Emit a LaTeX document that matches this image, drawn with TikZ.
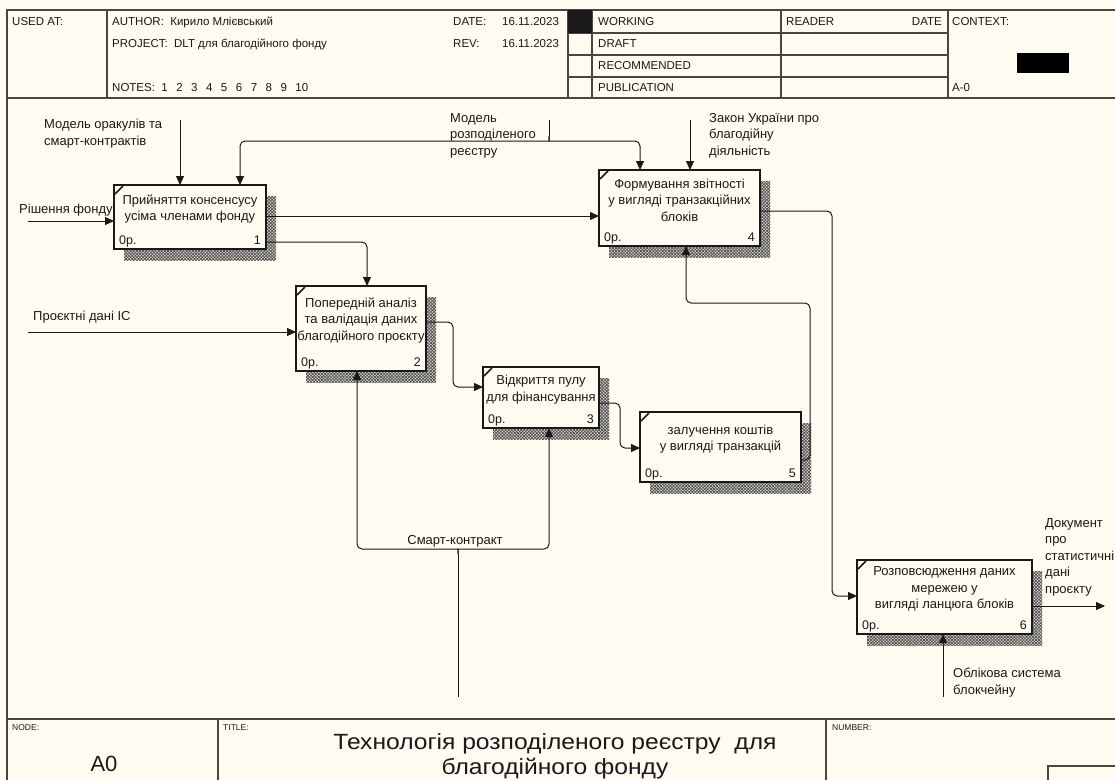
\documentclass[tikz,border=0pt]{standalone}
\usepackage{fontspec}
\setmainfont{Liberation Sans}
\usetikzlibrary{arrows.meta,patterns.meta}

\definecolor{paper}{RGB}{255,251,240}
\definecolor{ink}{RGB}{25,25,25}
\definecolor{rule}{RGB}{70,70,70}

\tikzset{
  frame/.style={draw=rule, line width=1.2pt},
  hdr/.style={anchor=base west, inner sep=0pt, font=\fontsize{11.5}{13}\selectfont, text=ink},
  tiny/.style={anchor=base west, inner sep=0pt, font=\fontsize{8.5}{10}\selectfont, text=ink},
  lbl/.style={anchor=north west, inner sep=0pt, align=left, font=\fontsize{13}{16.5}\selectfont, text=ink},
  boxframe/.style={draw=ink, line width=2pt, fill=paper, inner sep=0pt, outer sep=0pt, anchor=north west},
  boxtext/.style={align=center, inner sep=0pt, font=\fontsize{13}{16.5}\selectfont, text=ink},
  boxtag/.style={inner sep=0pt, font=\fontsize{12.5}{14}\selectfont, text=ink},
  hatchA/.style={pattern={Lines[angle=45,distance=2.2pt,line width=0.7pt]}, pattern color=black!70},
  hatchB/.style={pattern={Lines[angle=-45,distance=2.2pt,line width=0.7pt]}, pattern color=black!70},
  bigtext/.style={anchor=base, inner sep=0pt, font=\fontsize{22}{25}\selectfont, text=ink},
  flow/.style={draw=ink, line width=1pt, rounded corners=5pt, -{Triangle[length=9pt,width=8pt]}},
  wire/.style={draw=ink, line width=1pt},
}

% activity box: name, x1, y1, x2, y2, text, number
\newcommand\idefbox[7]{%
  \fill[black!12!paper] (#2+10,#3+11) rectangle (#4+10,#5+11);
  \fill[hatchA] (#2+10,#3+11) rectangle (#4+10,#5+11);
  \fill[hatchB] (#2+10,#3+11) rectangle (#4+10,#5+11);
  \node[boxframe, minimum width={#4-#2}, minimum height={#5-#3}] (#1) at (#2,#3) {};
  \draw[ink, line width=1.6pt] (#2+1,#3+9) -- (#2+9,#3+1);
  \node[boxtext] (#1-text) at ({(#2+#4)/2},{(#3+#5-16)/2}) {#6};
  \node[boxtag, anchor=base west] (#1-cost) at (#2+5,#5-5) {0р.};
  \node[boxtag, anchor=base east] (#1-num) at (#4-5,#5-5) {#7};
}

\begin{document}
\begin{tikzpicture}[x=1pt, y=-1pt]
  \useasboundingbox (0,0) rectangle (1115,780);
  \fill[paper] (0,0) rectangle (1115,780);

  % ---------- header block ----------
  \draw[frame] (7,10) -- (1115,10);
  \draw[frame] (7,98) -- (1115,98);
  \foreach \xx in {107,568,592,781,948}
    \draw[frame] (\xx,10) -- (\xx,98);
  \foreach \yy in {33,55,77}
    \draw[frame] (568,\yy) -- (948,\yy);
  \fill[ink] (568,10) rectangle (592,33);
  \fill[black] (1017,53) rectangle (1069,73);

  \node[hdr] (usedat) at (12,25) {USED AT:};
  \node[hdr] (author) at (112,25) {AUTHOR:\ \ Кирило Млієвський};
  \node[hdr] (project) at (112,47) {PROJECT:\ \ DLT для благодійного фонду};
  \node[hdr] (notes) at (112,91) {NOTES:\ \ 1\hspace{8.5pt}2\hspace{8.5pt}3\hspace{8.5pt}4\hspace{8.5pt}5\hspace{8.5pt}6\hspace{8.5pt}7\hspace{8.5pt}8\hspace{8.5pt}9\hspace{8.5pt}10};
  \node[hdr] (datek) at (453,25) {DATE:};
  \node[hdr] (datev) at (502,25) {16.11.2023};
  \node[hdr] (revk) at (453,47) {REV:};
  \node[hdr] (revv) at (502,47) {16.11.2023};
  \node[hdr] (working) at (598,25) {WORKING};
  \node[hdr] (draft) at (598,47) {DRAFT};
  \node[hdr] (recommended) at (598,69) {RECOMMENDED};
  \node[hdr] (publication) at (598,91) {PUBLICATION};
  \node[hdr] (reader) at (786,25) {READER};
  \node[hdr, anchor=base east] (rdate) at (942,25) {DATE};
  \node[hdr] (context) at (952,25) {CONTEXT:};
  \node[hdr] (ctxnode) at (952,91) {A-0};

  % ---------- outer border ----------
  \draw[rule, line width=2pt] (7,9) -- (7,780);

  % ---------- footer block ----------
  \draw[frame] (7,719) -- (1115,719);
  \draw[frame] (218,719) -- (218,780);
  \draw[frame] (826,719) -- (826,780);
  \draw[frame] (1048,780) -- (1048,766) -- (1115,766);
  \node[tiny] (nodek) at (12,730) {NODE:};
  \node[tiny] (titlek) at (223,730) {TITLE:};
  \node[tiny] (numberk) at (832,730) {NUMBER:};
  \node[bigtext] (nodev) at (104,771) {A0};
  \node[bigtext] (title1) at (555,749) {\scalebox{1.12}[1]{Технологія розподіленого реєстру\ \ для}};
  \node[bigtext] (title2) at (555,774) {\scalebox{1.12}[1]{благодійного фонду}};

  % ---------- activity boxes ----------
  \idefbox{b1}{114}{185}{266}{249}{Прийняття консенсусу\\усіма членами фонду}{1}
  \idefbox{b2}{296}{286}{426}{371}{Попередній аналіз\\та валідація даних\\благодійного проєкту}{2}
  \idefbox{b3}{483}{367}{599}{428}{Відкриття пулу\\для фінансування}{3}
  \idefbox{b4}{599}{170}{760}{246}{Формування звітності\\у вигляді транзакційних\\блоків}{4}
  \idefbox{b5}{640}{412}{801}{482}{залучення коштів\\у вигляді транзакцій}{5}
  \idefbox{b6}{857}{560}{1032}{634}{Розповсюдження даних\\мережею у\\вигляді ланцюга блоків}{6}

  % ---------- free ends of boundary arrows ----------
  \coordinate (in1) at (28,221);
  \coordinate (in2) at (28,332);
  \coordinate (c1) at (180,120);
  \coordinate (c2) at (549,120);
  \coordinate (c3) at (690,120);
  \coordinate (m1) at (458,697);
  \coordinate (m2) at (943,697);
  \coordinate (out1) at (1105,606);

  % inputs
  \draw[flow] (in1) -- (b1.west |- in1);
  \draw[flow] (in2) -- (b2.west |- in2);

  % controls
  \draw[flow] (c1) -- (c1 |- b1.north);
  \draw[flow] (c3) -- (c3 |- b4.north);
  \draw[wire] (c2) -- (549,136);
  \draw[flow] (549,136) .. controls (549,141) .. (544,141) -- (240,141) -- (240,0 |- b1.north);
  \draw[flow] (549,136) .. controls (549,141) .. (554,141) -- (640,141) -- (640,0 |- b4.north);

  % mechanisms
  \draw[flow] (m2) -- (m2 |- b6.south);
  \draw[wire] (m1) -- (458,554);
  \draw[flow] (458,554) .. controls (458,549) .. (453,549) -- (357,549) -- (357,0 |- b2.south);
  \draw[flow] (458,554) .. controls (458,549) .. (463,549) -- (549,549) -- (549,0 |- b3.south);

  % links between activities
  \draw[flow] (b1.east |- 0,216) -- (b4.west |- 0,216);
  \draw[flow] (b1.east |- 0,242) -- (367,242) -- (367,0 |- b2.north);
  \draw[flow] (b2.east |- 0,322) -- (453,322) |- (b3.west |- 0,387);
  \draw[flow] (b3.east |- 0,403) -- (620,403) |- (b5.west |- 0,448);
  \draw[flow] (b5.east |- 0,460) -- (810,460) -- (810,303) -- (686,303) -- (686,0 |- b4.south);
  \draw[flow] (b4.east |- 0,211) -- (832,211) |- (b6.west |- 0,596);
  \draw[flow] (b6.east |- out1) -- (out1);

  % ---------- arrow labels ----------
  \node[lbl] (l-in1) at (19,204) {Рішення фонду};
  \node[lbl] (l-in2) at (33,311) {Проєктні дані ІС};
  \node[lbl] (l-c1) at (44,119) {Модель оракулів та\\смарт-контрактів};
  \node[lbl] (l-c2) at (450,113) {Модель\\розподіленого\\реєстру};
  \node[lbl] (l-c3) at (709,113) {Закон України про\\благодійну\\діяльність};
  \node[lbl, anchor=north] (l-m1) at (455,535) {Смарт-контракт};
  \node[lbl] (l-m2) at (953,668) {Облікова система\\блокчейну};
  \node[lbl] (l-out1) at (1045,518) {Документ\\про\\статистичні\\дані\\проєкту};
\end{tikzpicture}
\end{document}
